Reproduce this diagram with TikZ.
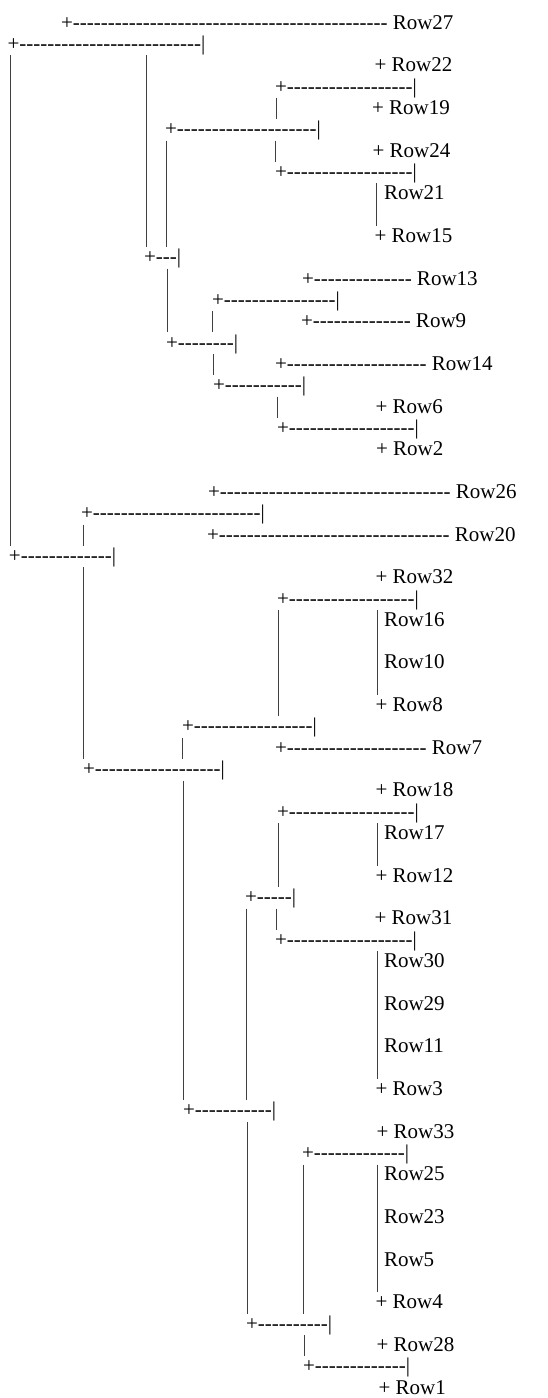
\documentclass[tikz,border=0pt]{standalone}
\usepackage{fontspec}
\newfontfamily\rowfont{Liberation Serif}
\ExplSyntaxOn
\cs_new:Npn \hyp #1 { \prg_replicate:nn {#1} { -\kern0pt\relax } }
\ExplSyntaxOff
\newcommand\ky[1]{29+21.333*#1}
\tikzset{
  lbl/.style={anchor=base west, inner sep=0pt, outer sep=0pt,
    font=\rowfont\fontsize{21}{21}\selectfont, text=black},
  vline/.style={line width=0.9pt, black!75}
}
\begin{document}
\begin{tikzpicture}[x=1pt,y=-1pt]
\useasboundingbox (0,0) rectangle (547,1398);
% horizontal segments
\node[lbl] (h0)  at (61,{\ky{0}})    {+\hyp{45} Row27};
\node[lbl] (h1)  at (7.5,{\ky{1}})   {+\hyp{26}|};
\node[lbl] (l2)  at (374.6,{\ky{2}}) {+ Row22};
\node[lbl] (h3)  at (275,{\ky{3}})   {+\hyp{18}|};
\node[lbl] (l4)  at (372,{\ky{4}})   {+ Row19};
\node[lbl] (h5)  at (165,{\ky{5}})   {+\hyp{20}|};
\node[lbl] (l6)  at (372.6,{\ky{6}}) {+ Row24};
\node[lbl] (h7)  at (275,{\ky{7}})   {+\hyp{18}|};
\node[lbl] (l8)  at (384,{\ky{8}})   {Row21};
\node[lbl] (l10) at (374.6,{\ky{10}}) {+ Row15};
\node[lbl] (h11) at (144,{\ky{11}})  {+\hyp{3}|};
\node[lbl] (h12) at (302,{\ky{12}})  {+\hyp{14} Row13};
\node[lbl] (h13) at (212,{\ky{13}})  {+\hyp{16}|};
\node[lbl] (h14) at (301,{\ky{14}})  {+\hyp{14} Row9};
\node[lbl] (h15) at (166,{\ky{15}})  {+\hyp{8}|};
\node[lbl] (h16) at (275,{\ky{16}})  {+\hyp{20} Row14};
\node[lbl] (h17) at (213,{\ky{17}})  {+\hyp{11}|};
\node[lbl] (l18) at (375.6,{\ky{18}}) {+ Row6};
\node[lbl] (h19) at (277,{\ky{19}})  {+\hyp{18}|};
\node[lbl] (l20) at (376,{\ky{20}})  {+ Row2};
\node[lbl] (h22) at (208,{\ky{22}})  {+\hyp{33} Row26};
\node[lbl] (h23) at (81,{\ky{23}})   {+\hyp{24}|};
\node[lbl] (h24) at (207,{\ky{24}})  {+\hyp{33} Row20};
\node[lbl] (h25) at (9,{\ky{25}})    {+\hyp{13}|};
\node[lbl] (l26) at (375.6,{\ky{26}}) {+ Row32};
\node[lbl] (h27) at (277,{\ky{27}})  {+\hyp{18}|};
\node[lbl] (l28) at (384,{\ky{28}})  {Row16};
\node[lbl] (l30) at (384,{\ky{30}})  {Row10};
\node[lbl] (l32) at (375.6,{\ky{32}}) {+ Row8};
\node[lbl] (h33) at (182,{\ky{33}})  {+\hyp{17}|};
\node[lbl] (h34) at (275,{\ky{34}})  {+\hyp{20} Row7};
\node[lbl] (h35) at (83,{\ky{35}})   {+\hyp{18}|};
\node[lbl] (l36) at (375.6,{\ky{36}}) {+ Row18};
\node[lbl] (h37) at (277,{\ky{37}})  {+\hyp{18}|};
\node[lbl] (l38) at (384,{\ky{38}})  {Row17};
\node[lbl] (l40) at (375.6,{\ky{40}}) {+ Row12};
\node[lbl] (h41) at (245,{\ky{41}})  {+\hyp{5}|};
\node[lbl] (l42) at (374.6,{\ky{42}}) {+ Row31};
\node[lbl] (h43) at (275,{\ky{43}})  {+\hyp{18}|};
\node[lbl] (l44) at (384,{\ky{44}})  {Row30};
\node[lbl] (l46) at (384,{\ky{46}})  {Row29};
\node[lbl] (l48) at (384,{\ky{48}})  {Row11};
\node[lbl] (l50) at (375.6,{\ky{50}}) {+ Row3};
\node[lbl] (h51) at (183,{\ky{51}})  {+\hyp{11}|};
\node[lbl] (l52) at (376.6,{\ky{52}}) {+ Row33};
\node[lbl] (h53) at (302,{\ky{53}})  {+\hyp{13}|};
\node[lbl] (l54) at (384,{\ky{54}})  {Row25};
\node[lbl] (l56) at (384,{\ky{56}})  {Row23};
\node[lbl] (l58) at (384,{\ky{58}})  {Row5};
\node[lbl] (l60) at (375.6,{\ky{60}}) {+ Row4};
\node[lbl] (h61) at (246,{\ky{61}})  {+\hyp{10}|};
\node[lbl] (l62) at (376.6,{\ky{62}}) {+ Row28};
\node[lbl] (h63) at (303,{\ky{63}})  {+\hyp{13}|};
\node[lbl] (l64) at (378.6,{\ky{64}}) {+ Row1};
% vertical bars
\foreach \x/\a/\b [count=\i] in {10/2/24, 146/2/10, 166/6/10, 276/4/4, 275/6/6,
  376/8/9, 167/12/14, 212/14/14, 213/16/16, 277/18/18, 83/24/24, 83/26/34,
  278/28/32, 377/28/31, 182/34/34, 183/36/50, 278/38/40, 377/38/39,
  246/42/50, 276/42/42, 377/44/49, 247/52/60, 303/54/60, 377/54/59, 304/62/62} {
  \coordinate (vt\i) at (\x,{\ky{\a}-16.4});
  \coordinate (vb\i) at (\x,{\ky{\b}+4.6});
  \draw[vline] (vt\i) -- (vb\i);
}
\end{tikzpicture}
\end{document}
